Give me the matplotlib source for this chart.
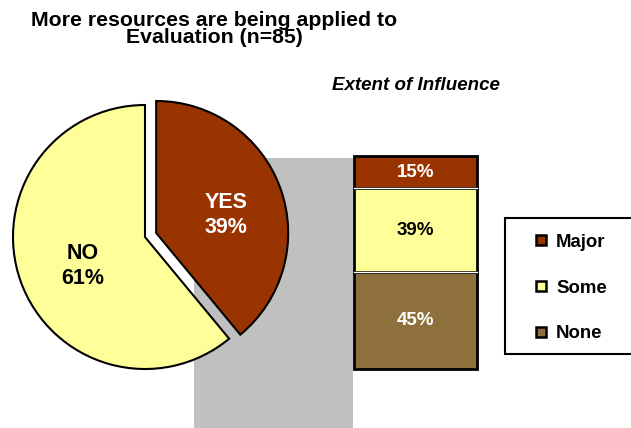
import matplotlib
matplotlib.use("Agg")
import matplotlib.pyplot as plt
from matplotlib.patches import Rectangle
from matplotlib.lines import Line2D

plt.rcParams['font.family'] = ['Liberation Sans', 'DejaVu Sans']

# Pie: share of respondents
pie_labels = ["YES", "NO"]
pie_values = [39, 61]
pie_colors = ["#993300", "#FFFF99"]
pie_text_colors = ["white", "black"]

# Stacked bar: extent of influence (bottom to top)
bar_labels = ["None", "Some", "Major"]
bar_values = [45, 39, 15]
bar_colors = ["#8E703C", "#FFFF99", "#993300"]
bar_text_colors = ["white", "black", "white"]

title = "More resources are being applied to\nEvaluation (n=85)"
bar_title = "Extent of Influence"

W, H = 631, 428
fig = plt.figure(figsize=(W / 100, H / 100), dpi=100)


def px_axes(x0, y0, x1, y1, **kw):
    return fig.add_axes([x0 / W, 1 - y1 / H, (x1 - x0) / W, (y1 - y0) / H], **kw)


# grey backdrop between pie and bar
gax = px_axes(194, 158, 353, 440)
gax.set_facecolor("#C0C0C0")
gax.set_xticks([]); gax.set_yticks([])
for s in gax.spines.values():
    s.set_visible(False)

# pie
R = 132.0
cx, cy = 145, 237
half = 160
pax = px_axes(cx - half, cy - half, cx + half, cy + half)
pax.patch.set_alpha(0)
wedges, texts = pax.pie(
    pie_values,
    labels=[f"{l}\n{v}%" for l, v in zip(pie_labels, pie_values)],
    colors=pie_colors,
    explode=[0.09, 0],
    startangle=90,
    counterclock=False,
    labeldistance=0.53,
    wedgeprops=dict(edgecolor="black", linewidth=1.5),
    textprops=dict(fontsize=15.5, fontweight="bold", ha="center", va="center",
                   linespacing=1.25),
)
for t, c in zip(texts, pie_text_colors):
    t.set_color(c)
    x, y = t.get_position()
    t.set_position((x + 0.03, y - 0.04))
pax.set_aspect("equal")
pax.set_xlim(-half / R, half / R)
pax.set_ylim(-half / R, half / R)
pax.axis("off")

# stacked bar
ppp = 2.15           # pixels per percent
top_px = 156
total = sum(bar_values)
bx0, bx1 = 354, 477
by0, by1 = 140, 428
bax = px_axes(bx0, by0, bx1, by1)
bax.set_xlim(-0.5, 0.5)
bax.set_ylim(total - (by1 - top_px) / ppp, total + (top_px - by0) / ppp)
bax.axis("off")
bax.patch.set_alpha(0)
bottom = 0
for v, c, tc in zip(bar_values, bar_colors, bar_text_colors):
    bax.bar(0, v, bottom=bottom, width=1.0, color=c, edgecolor="black",
            linewidth=2, clip_on=False)
    if bottom + v < total:
        bax.plot([-0.5, 0.5], [bottom + v, bottom + v], color="white", lw=1,
                 clip_on=False, zorder=3)
    bax.text(0, bottom + v / 2, f"{v}%", ha="center", va="center",
             fontsize=13.5, fontweight="bold", color=tc)
    bottom += v

fig.text(416 / W, 1 - 85 / H, bar_title, ha="center", va="center",
         fontsize=13.5, fontweight="bold", style="italic")

fig.text(214 / W, 1 - 29 / H, title, ha="center", va="center",
         fontsize=15.3, fontweight="bold", linespacing=0.88)

# legend box running off the right edge
fig.patches.append(Rectangle((505 / W, 1 - 354 / H), 140 / W, 136 / H,
                             transform=fig.transFigure, facecolor="white",
                             edgecolor="black", linewidth=1.5))
handles = [Line2D([], [], marker="s", linestyle="none", markersize=6.5,
                  markerfacecolor=c, markeredgecolor="black",
                  markeredgewidth=1.8)
           for c in bar_colors[::-1]]
leg = fig.legend(handles, bar_labels[::-1], loc="center left",
                 bbox_to_anchor=(518 / W, 1 - 288 / H), frameon=False,
                 handlelength=0.7, handletextpad=0.45, labelspacing=1.55,
                 prop=dict(size=13.4, weight="bold"))

fig.savefig("out.png", dpi=100)
